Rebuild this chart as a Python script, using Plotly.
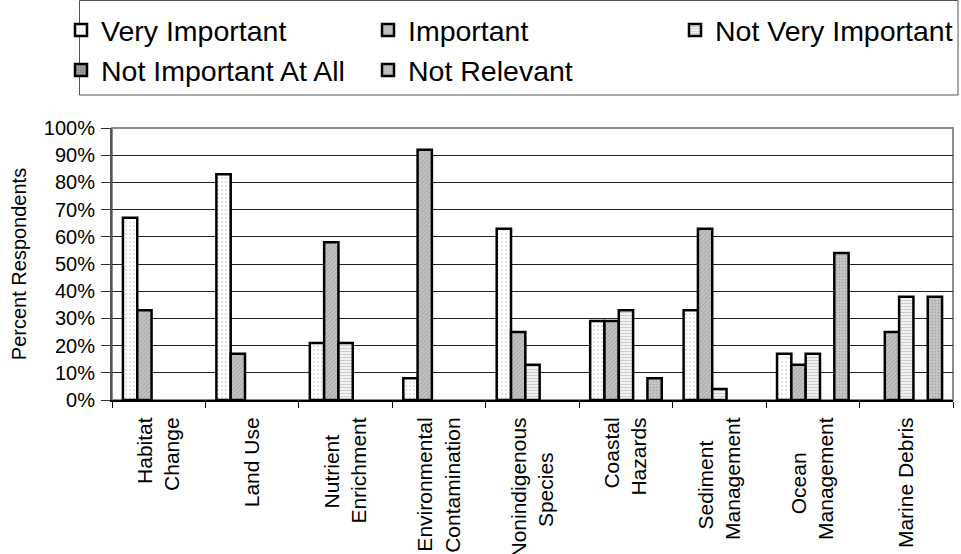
import plotly.graph_objects as go

NB = "\u00a0"
categories = [
    "Habitat<br>Change",
    "Land Use",
    "Nutrient" + NB * 3 + "<br>Enrichment",
    "Environmental<br>Contamination",
    "Nonindigenous<br>Species" + NB * 6,
    "Coastal<br>Hazards",
    "Sediment" + NB * 4 + "<br>Management",
    "Ocean" + NB * 6 + "<br>Management",
    "Marine Debris",
]

series_names = ["Very Important", "Important", "Not Very Important",
                "Not Important At All", "Not Relevant"]

very_important = [67, 83, 21, 8, 63, 29, 33, 17, 0]
important = [33, 17, 58, 92, 25, 29, 63, 13, 25]
not_very_important = [0, 0, 21, 0, 13, 33, 4, 17, 38]
not_important_at_all = [0, 0, 0, 0, 0, 0, 0, 0, 0]
not_relevant = [0, 0, 0, 0, 0, 8, 0, 54, 38]

y_ticks = [0, 10, 20, 30, 40, 50, 60, 70, 80, 90, 100]
y_tick_labels = ["0%", "10%", "20%", "30%", "40%", "50%", "60%", "70%",
                 "80%", "90%", "100%"]

series_values = [very_important, important, not_very_important,
                 not_important_at_all, not_relevant]

patterns = [
    dict(shape=".", bgcolor="#ffffff", fgcolor="#b4b4b4", size=4, solidity=0.2),
    dict(shape="/", bgcolor="#c4c4c4", fgcolor="#8c8c8c", size=3, solidity=0.35),
    dict(shape="-", bgcolor="#f2f2f2", fgcolor="#a8a8a8", size=3, solidity=0.35),
    dict(shape=".", bgcolor="#8a8a8a", fgcolor="#d0d0d0", size=3, solidity=0.3),
    dict(shape=".", bgcolor="#c8c8c8", fgcolor="#8c8c8c", size=3, solidity=0.35),
]

FONT = "Arial, Liberation Sans, sans-serif"

fig = go.Figure()
for name, vals, pat in zip(series_names, series_values, patterns):
    # zero-height bars are not drawn in the reference
    yv = [v if v != 0 else None for v in vals]
    fig.add_trace(go.Bar(
        name=name, x=categories, y=yv,
        marker=dict(color=pat["bgcolor"], pattern=pat,
                    line=dict(color="#000000", width=2.5)),
    ))

W, H = 961, 554
L, R, T, B = 112, 8, 128, 154
pw, ph = W - L - R, H - T - B

def px(xp):
    return (xp - L) / pw

def py(yp):
    return (H - B - yp) / ph

fig.update_layout(
    width=W, height=H,
    margin=dict(l=L, r=R, t=T, b=B, autoexpand=False),
    paper_bgcolor="white", plot_bgcolor="white",
    font=dict(family=FONT, color="#000000"),
    barmode="group", bargap=0.234, bargroupgap=0,
    showlegend=True,
    legend=dict(
        orientation="h", x=px(61), xanchor="left", y=py(5), yanchor="top",
        font=dict(size=28.5, family=FONT), entrywidth=262, entrywidthmode="pixels",
        bgcolor="rgba(0,0,0,0)", borderwidth=0, traceorder="normal",
    ),
    shapes=[
        dict(type="rect", xref="paper", yref="paper",
             x0=px(79.5), x1=px(958), y0=py(95), y1=py(0.5),
             line=dict(color="#555555", width=1), fillcolor="rgba(0,0,0,0)"),
        dict(type="rect", xref="paper", yref="paper", x0=0, x1=1, y0=0, y1=1,
             line=dict(color="#8c8c8c", width=2), fillcolor="rgba(0,0,0,0)",
             layer="below"),
    ],
    xaxis=dict(
        tickangle=-90, tickson="boundaries", ticks="outside", ticklen=6,
        tickcolor="#000000", tickwidth=1, showline=True, linecolor="#000000",
        linewidth=2, tickfont=dict(size=21, family=FONT), showgrid=False,
        ticklabelstandoff=7,
    ),
    yaxis=dict(
        range=[0, 100], tickmode="array", tickvals=y_ticks, ticktext=y_tick_labels,
        ticks="outside", ticklen=9, tickcolor="#333333", showline=True,
        linecolor="#555555", linewidth=2, showgrid=True, gridcolor="#222222",
        gridwidth=1, zeroline=False, tickfont=dict(size=20, family=FONT),
        ticklabelstandoff=2,
        title=dict(text=NB * 3 + "Percent Respondents",
                   font=dict(size=20, family=FONT), standoff=12),
    ),
)

fig.write_html("out.html",
               config={"displayModeBar": False},
               post_script="document.body.style.margin='0';")
